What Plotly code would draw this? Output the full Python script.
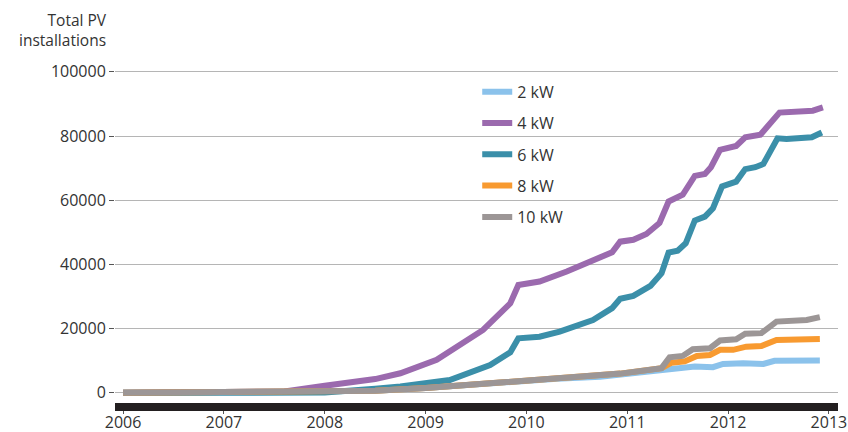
import plotly.graph_objects as go

# ---- data (decimal years, installations) ----
yr_2kw = [2006.0, 2007.0, 2007.5, 2008.0, 2008.5, 2009.0, 2009.5, 2009.9, 2010.3, 2010.73,
          2010.93, 2011.34, 2011.55, 2011.67, 2011.85, 2011.95, 2012.15, 2012.35, 2012.46, 2012.91]
kw2 = [0, 100, 200, 300, 700, 1500, 2600, 3700, 4400, 5000,
       5600, 6900, 7400, 8200, 8000, 9000, 9200, 9000, 10000, 10100]

yr_4kw = [2006.0, 2007.0, 2007.3, 2007.6, 2008.0, 2008.5, 2008.75, 2009.11, 2009.57, 2009.84,
          2009.92, 2010.13, 2010.40, 2010.63, 2010.85, 2010.93, 2011.06, 2011.19, 2011.32, 2011.41,
          2011.55, 2011.67, 2011.77, 2011.83, 2011.92, 2012.08, 2012.17, 2012.32, 2012.51, 2012.84,
          2012.94]
kw4 = [0, 100, 150, 400, 2200, 4300, 6100, 10300, 19600, 27900,
       33600, 34700, 37800, 40900, 43800, 47100, 47700, 49500, 52900, 59600,
       61700, 67600, 68200, 70300, 75700, 76900, 79600, 80400, 87300, 87900,
       88900]

yr_6kw = [2006.0, 2007.5, 2008.0, 2008.5, 2008.75, 2009.24, 2009.41, 2009.64, 2009.84, 2009.92,
          2010.13, 2010.33, 2010.66, 2010.85, 2010.93, 2011.06, 2011.23, 2011.34, 2011.41, 2011.50,
          2011.58, 2011.67, 2011.77, 2011.85, 2011.94, 2012.08, 2012.17, 2012.27, 2012.35, 2012.49,
          2012.58, 2012.83, 2012.93]
kw6 = [0, 0, 100, 1300, 2000, 4000, 6100, 8700, 12600, 17000,
       17500, 19100, 22700, 26400, 29300, 30200, 33300, 37300, 43700, 44300,
       46600, 53700, 54900, 57500, 64300, 65800, 69700, 70300, 71300, 79300,
       79100, 79600, 81100]

yr_8kw = [2006.0, 2007.0, 2007.5, 2008.0, 2008.5, 2009.0, 2009.5, 2009.9, 2010.3, 2010.73,
          2010.93, 2011.34, 2011.44, 2011.57, 2011.69, 2011.82, 2011.92, 2012.05, 2012.18, 2012.33,
          2012.48, 2012.91]
kw8 = [0, 100, 200, 300, 700, 1500, 2600, 3800, 4600, 5300,
       6000, 7700, 9400, 9800, 11500, 11800, 13400, 13400, 14400, 14600,
       16500, 16800]

yr_10kw = [2006.0, 2007.0, 2007.5, 2008.0, 2008.5, 2009.0, 2009.5, 2009.9, 2010.3, 2010.73,
           2010.93, 2011.34, 2011.42, 2011.55, 2011.65, 2011.82, 2011.92, 2012.08, 2012.17, 2012.33,
           2012.48, 2012.78, 2012.91]
kw10 = [0, 100, 200, 300, 700, 1500, 2600, 3800, 4600, 5300,
        6000, 7700, 11100, 11500, 13600, 13900, 16300, 16700, 18400, 18600,
        22200, 22700, 23600]

series_names = ["2 kW", "4 kW", "6 kW", "8 kW", "10 kW"]
series_x = [yr_2kw, yr_4kw, yr_6kw, yr_8kw, yr_10kw]
series_y = [kw2, kw4, kw6, kw8, kw10]
colors = ["#8bc2eb", "#9b6aae", "#3b8fa9", "#f89a30", "#9c9696"]

year_ticks = [2006, 2007, 2008, 2009, 2010, 2011, 2012, 2013]
y_ticks = [0, 20000, 40000, 60000, 80000, 100000]

FONT = "Open Sans"
TXT = "#333333"
PLOT_H = 340  # plot-area height in px

fig = go.Figure()
for name, xs, ys, c in zip(series_names, series_x, series_y, colors):
    fig.add_trace(go.Scatter(
        x=xs, y=ys, name=name, mode="lines",
        line=dict(color=c, width=6), legendgroup=name,
    ))

fig.update_layout(
    width=848, height=432,
    margin=dict(l=115, r=10, t=67, b=25),
    paper_bgcolor="white", plot_bgcolor="white",
    font=dict(family=FONT, size=16, color=TXT),
    showlegend=True,
    legend=dict(
        x=0.501, y=0.977, xanchor="left", yanchor="top",
        bgcolor="rgba(0,0,0,0)", font=dict(family=FONT, size=16, color=TXT),
        tracegroupgap=7.5,
    ),
    xaxis=dict(
        range=[2005.92, 2013.09], tickvals=year_ticks,
        ticktext=[str(v) for v in year_ticks],
        showgrid=False, zeroline=False, automargin=False, showline=False,
        ticks="outside", ticklen=6, tickcolor="#555555",
        ticklabelstandoff=-5, ticklabeloverflow="allow",
        tickfont=dict(family=FONT, size=16, color=TXT),
    ),
    yaxis=dict(
        range=[-4400, 101500], tickvals=y_ticks, tickformat="d",
        showgrid=True, gridcolor="#b5b5b5", gridwidth=1.3,
        zeroline=False, showline=False, automargin=False,
        ticks="outside", ticklen=5, tickcolor="#555555",
        tickfont=dict(family=FONT, size=16, color=TXT),
    ),
    shapes=[dict(
        type="rect", xref="paper", yref="paper",
        x0=0, x1=1, y0=-4 / PLOT_H, y1=4 / PLOT_H,
        fillcolor="#231f20", line=dict(width=0), layer="above",
    )],
    annotations=[
        dict(text="Total PV<br>installations", xref="paper", yref="paper",
             x=-0.0085, y=1.0, xanchor="right", yanchor="middle", align="right",
             yshift=37, showarrow=False,
             font=dict(family=FONT, size=15.5, color=TXT)),
    ],
)

fig.write_html(
    "out.html",
    config={"displayModeBar": False},
    post_script="document.body.style.margin='0';document.body.style.overflow='hidden';",
)
